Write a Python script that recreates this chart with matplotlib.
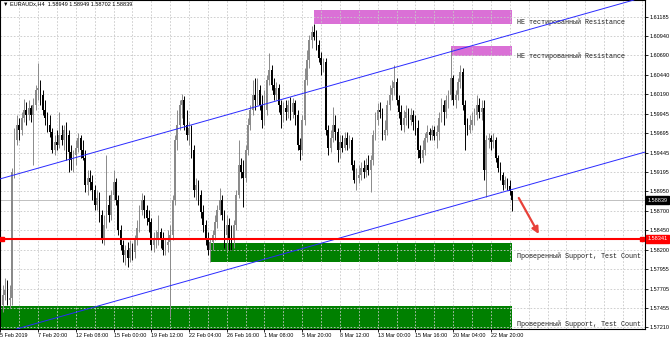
import numpy as np
import matplotlib
matplotlib.use("Agg")
import matplotlib.pyplot as plt

# EURAUD H4 candles (prices)
open_first = 1.5756
close = [1.5750, 1.5762, 1.5769, 1.5756, 1.5759, 1.5920, 1.5961, 1.5980, 1.5974, 1.5989,
         1.5999, 1.5993, 1.6002, 1.5993, 1.6006, 1.6025, 1.6027, 1.6018, 1.5999, 1.5989,
         1.5980, 1.5971, 1.5948, 1.5958, 1.5954, 1.5967, 1.5961, 1.5974, 1.5967, 1.5945,
         1.5935, 1.5942, 1.5951, 1.5963, 1.5948, 1.5938, 1.5903, 1.5912, 1.5907, 1.5897,
         1.5878, 1.5887, 1.5865, 1.5835, 1.5852, 1.5878, 1.5865, 1.5890, 1.5907, 1.5884,
         1.5846, 1.5826, 1.5814, 1.5820, 1.5810, 1.5823, 1.5817, 1.5833, 1.5848, 1.5871,
         1.5884, 1.5871, 1.5861, 1.5856, 1.5826, 1.5833, 1.5835, 1.5843, 1.5833, 1.5820,
         1.5826, 1.5830, 1.5839, 1.5884, 1.5961, 1.5980, 1.6006, 1.6012, 1.5980, 1.5967,
         1.5976, 1.5948, 1.5897, 1.5903, 1.5890, 1.5869, 1.5852, 1.5833, 1.5820, 1.5830,
         1.5839, 1.5856, 1.5871, 1.5884, 1.5865, 1.5839, 1.5852, 1.5835, 1.5833, 1.5852,
         1.5890, 1.5929, 1.5920, 1.5912, 1.5948, 1.5980, 1.5999, 1.6018, 1.6012, 1.6025,
         1.6006, 1.5986, 1.5999, 1.6038, 1.6050, 1.6031, 1.6018, 1.6027, 1.6006, 1.5993,
         1.6002, 1.5997, 1.6006, 1.5997, 1.6008, 1.5993, 1.5954, 1.5948, 1.5986, 1.6038,
         1.6063, 1.6089, 1.6099, 1.6093, 1.6082, 1.6066, 1.6057, 1.6061, 1.5974, 1.5951,
         1.5963, 1.5980, 1.5971, 1.5948, 1.5958, 1.5951, 1.5963, 1.5954, 1.5961, 1.5929,
         1.5910, 1.5912, 1.5916, 1.5925, 1.5920, 1.5929, 1.5922, 1.5935, 1.5967, 1.5986,
         1.5999, 1.5997, 1.5967, 1.5974, 1.6006, 1.6018, 1.6027, 1.6035, 1.6012, 1.5997,
         1.5980, 1.5989, 1.5997, 1.5986, 1.5993, 1.5984, 1.5976, 1.5948, 1.5938, 1.5948,
         1.5963, 1.5971, 1.5967, 1.5974, 1.5966, 1.5971, 1.5989, 1.6006, 1.5997, 1.6012,
         1.6018, 1.6040, 1.6012, 1.6018, 1.6035, 1.6048, 1.6006, 1.5980, 1.5974, 1.5980,
         1.5986, 1.5993, 1.6006, 1.5997, 1.6002, 1.5922, 1.5961, 1.5963, 1.5958, 1.5961,
         1.5938, 1.5925, 1.5916, 1.5903, 1.5910, 1.5902, 1.58949, 1.58839]
high = [1.5769, 1.5775, 1.5784, 1.5782, 1.5775, 1.5925, 1.5976, 1.5993, 1.5989, 1.5997,
        1.6013, 1.6009, 1.6012, 1.6006, 1.6015, 1.6031, 1.6059, 1.6038, 1.6025, 1.6012,
        1.5997, 1.5993, 1.5976, 1.5967, 1.5974, 1.5997, 1.5980, 1.5980, 1.5984, 1.5974,
        1.5954, 1.5948, 1.5961, 1.5970, 1.5967, 1.5961, 1.5948, 1.5922, 1.5922, 1.5916,
        1.5903, 1.5897, 1.5894, 1.5871, 1.5865, 1.5942, 1.5890, 1.5897, 1.5922, 1.5912,
        1.5890, 1.5852, 1.5833, 1.5826, 1.5830, 1.5833, 1.5829, 1.5839, 1.5858, 1.5878,
        1.5893, 1.5890, 1.5878, 1.5871, 1.5861, 1.5843, 1.5846, 1.5865, 1.5848, 1.5843,
        1.5835, 1.5846, 1.5852, 1.5890, 1.5967, 1.5999, 1.6012, 1.6020, 1.6017, 1.5999,
        1.5984, 1.5980, 1.5954, 1.5912, 1.5910, 1.5897, 1.5878, 1.5858, 1.5843, 1.5835,
        1.5846, 1.5865, 1.5878, 1.5899, 1.5890, 1.5871, 1.5865, 1.5861, 1.5852, 1.5858,
        1.5897, 1.5961, 1.5938, 1.5935, 1.5954, 1.5989, 1.6006, 1.6038, 1.6040, 1.6040,
        1.6031, 1.6018, 1.6025, 1.6044, 1.6072, 1.6057, 1.6040, 1.6035, 1.6033, 1.6012,
        1.6009, 1.6012, 1.6012, 1.6016, 1.6015, 1.6012, 1.5999, 1.5963, 1.5993, 1.6053,
        1.6076, 1.6095, 1.6107, 1.6109, 1.6102, 1.6089, 1.6073, 1.6066, 1.6066, 1.5980,
        1.5974, 1.6003, 1.5993, 1.5976, 1.5967, 1.5967, 1.5971, 1.5971, 1.5967, 1.5965,
        1.5935, 1.5925, 1.5929, 1.5933, 1.5935, 1.5938, 1.5942, 1.5942, 1.5974, 1.5997,
        1.6008, 1.6009, 1.6002, 1.5986, 1.6012, 1.6031, 1.6038, 1.6057, 1.6040, 1.6018,
        1.6006, 1.5999, 1.6006, 1.6002, 1.6002, 1.5999, 1.5993, 1.5986, 1.5954, 1.5961,
        1.5970, 1.5980, 1.5976, 1.5980, 1.5979, 1.5980, 1.5997, 1.6015, 1.6012, 1.6018,
        1.6025, 1.6079, 1.6044, 1.6025, 1.6040, 1.6057, 1.6053, 1.6012, 1.5989, 1.5993,
        1.5997, 1.6002, 1.6018, 1.6015, 1.6012, 1.6012, 1.5967, 1.5970, 1.5967, 1.5970,
        1.5965, 1.5942, 1.5933, 1.5920, 1.5915, 1.5912, 1.5910, 1.58949]
low = [1.5733, 1.5741, 1.5756, 1.5750, 1.5746, 1.5750, 1.5912, 1.5954, 1.5961, 1.5967,
       1.5984, 1.5980, 1.5986, 1.5984, 1.5929, 1.5999, 1.6012, 1.6006, 1.5993, 1.5980,
       1.5971, 1.5965, 1.5944, 1.5942, 1.5948, 1.5951, 1.5954, 1.5948, 1.5935, 1.5920,
       1.5922, 1.5920, 1.5929, 1.5945, 1.5938, 1.5935, 1.5894, 1.5890, 1.5897, 1.5884,
       1.5871, 1.5871, 1.5856, 1.5829, 1.5826, 1.5848, 1.5856, 1.5858, 1.5884, 1.5878,
       1.5839, 1.5820, 1.5805, 1.5801, 1.5798, 1.5805, 1.5807, 1.5810, 1.5826, 1.5843,
       1.5865, 1.5861, 1.5852, 1.5843, 1.5820, 1.5817, 1.5823, 1.5826, 1.5823, 1.5814,
       1.5814, 1.5817, 1.5734, 1.5833, 1.5878, 1.5948, 1.5974, 1.5989, 1.5974, 1.5961,
       1.5954, 1.5938, 1.5888, 1.5884, 1.5878, 1.5861, 1.5843, 1.5826, 1.5814, 1.5805,
       1.5820, 1.5833, 1.5848, 1.5865, 1.5858, 1.5823, 1.5820, 1.5820, 1.5820, 1.5823,
       1.5846, 1.5887, 1.5912, 1.5875, 1.5907, 1.5942, 1.5974, 1.5993, 1.5999, 1.6006,
       1.5999, 1.5976, 1.5980, 1.5993, 1.6031, 1.6025, 1.6012, 1.6012, 1.5997, 1.5976,
       1.5984, 1.5986, 1.5989, 1.5986, 1.5989, 1.5980, 1.5948, 1.5935, 1.5942, 1.5980,
       1.6031, 1.6053, 1.6079, 1.6089, 1.6076, 1.6061, 1.6044, 1.6048, 1.5967, 1.5942,
       1.5945, 1.5958, 1.5961, 1.5933, 1.5938, 1.5945, 1.5948, 1.5948, 1.5951, 1.5922,
       1.5906, 1.5897, 1.5906, 1.5910, 1.5912, 1.5913, 1.5916, 1.5894, 1.5929, 1.5961,
       1.5980, 1.5989, 1.5961, 1.5961, 1.5967, 1.5999, 1.6012, 1.6018, 1.6006, 1.5989,
       1.5974, 1.5971, 1.5980, 1.5976, 1.5980, 1.5974, 1.5967, 1.5938, 1.5931, 1.5933,
       1.5942, 1.5958, 1.5961, 1.5961, 1.5961, 1.5951, 1.5961, 1.5984, 1.5980, 1.5989,
       1.6002, 1.6012, 1.6006, 1.6002, 1.6012, 1.6027, 1.5999, 1.5948, 1.5967, 1.5970,
       1.5974, 1.5980, 1.5986, 1.5989, 1.5986, 1.5910, 1.5888, 1.5951, 1.5948, 1.5951,
       1.5933, 1.5920, 1.5910, 1.5897, 1.5899, 1.5897, 1.5890, 1.58702]

ytick_vals = [1.61185, 1.60940, 1.60690, 1.60440, 1.60190, 1.59945, 1.59695, 1.59445,
              1.59195, 1.58950, 1.58700, 1.58450, 1.58200, 1.57955, 1.57705, 1.57455, 1.57210]
time_labels = ["5 Feb 2019", "7 Feb 20:00", "12 Feb 08:00", "15 Feb 00:00", "19 Feb 12:00",
               "22 Feb 04:00", "26 Feb 16:00", "1 Mar 08:00", "5 Mar 20:00", "8 Mar 12:00",
               "13 Mar 00:00", "15 Mar 16:00", "20 Mar 04:00", "22 Mar 20:00"]

# zones: (start bar, low, high, text level, text)
resist_zones = [(133, 1.61092, 1.61271, 1.61117, "НЕ тестированный Resistance"),
                (191, 1.60682, 1.60810, 1.60682, "НЕ тестированный Resistance")]
support_zones = [(89, 1.58050, 1.58293, 1.58123, "Проверенный Support, Test Count"),
                 (-3, 1.57190, 1.57483, 1.57246, "Проверенный Support, Test Count")]
red_level = 1.58341
upper_channel = [(0, 1.5911), (264, 1.6136)]
lower_channel = [(0, 1.5713), (273, 1.5945)]
arrow_from = (219.8, 1.58865)
arrow_to = (228.3, 1.58404)

close = np.array(close)
high = np.array(high)
low = np.array(low)
opn = np.concatenate(([open_first], close[:-1]))
n = len(close)
idx = np.arange(n)

fig = plt.figure(figsize=(6.7, 3.4), dpi=100)
ax = fig.add_axes([0, 11 / 340, 644.5 / 670, 329 / 340])
ax.set_xlim(-0.13, 273.1)
ax.set_ylim(1.57188, 1.61399)

# zones
for x0, lo, hi, ty, txt in resist_zones:
    ax.fill_between([x0, n - 1], lo, hi, color="#da70d6", lw=0, zorder=0.2)
    ax.text(n + 0.9, ty, txt, fontsize=4.9, family="Liberation Mono", va="center",
            ha="left", color="#222222", clip_on=True)
for x0, lo, hi, ty, txt in support_zones:
    ax.fill_between([x0, n - 1], lo, hi, color="#008000", lw=0, zorder=0.2)
    ax.text(n + 0.9, ty, txt, fontsize=4.9, family="Liberation Mono", va="center",
            ha="left", color="#222222", clip_on=True)

# grid
ax.set_axisbelow(True)
ax.set_yticks(ytick_vals)
ax.set_yticklabels([f"{v:.5f}" for v in ytick_vals])
ax.set_xticks(np.arange(0, 16 * len(time_labels), 16))
ax.set_xticklabels(time_labels, ha="left")
ax.set_xticks(np.arange(8, 274, 8), minor=True)
ax.grid(True, which="both", color="#c8c8c8", lw=0.6, linestyle=(0, (2, 2)))

# candles
up = close >= opn
body_lo = np.minimum(opn, close)
body_h = np.maximum(np.abs(close - opn), 0.00003)
ax.vlines(idx[up], low[up], high[up], color="#8a8a8a", lw=0.7, zorder=2)
ax.vlines(idx[~up], low[~up], high[~up], color="black", lw=0.7, zorder=2)
ax.bar(idx[up], body_h[up], bottom=body_lo[up], width=0.72, color="#8a8a8a", lw=0, zorder=3)
ax.bar(idx[~up], body_h[~up], bottom=body_lo[~up], width=0.72, color="black", lw=0, zorder=3)

# bid line, channel, red level
ax.axhline(close[-1], color="#c0c0c0", lw=0.7, zorder=1.5)
ax.axline(upper_channel[0], upper_channel[1], color="#2a2aff", lw=0.7, zorder=4)
ax.axline(lower_channel[0], lower_channel[1], color="#2a2aff", lw=0.7, zorder=4)
ax.axhline(red_level, color="red", lw=1.5, zorder=5)
ax.plot([0.6, 272.2], [red_level, red_level], "s", color="red", ms=2.6, zorder=6, clip_on=False)
ax.annotate("", xy=arrow_to, xytext=arrow_from,
            arrowprops=dict(arrowstyle="-|>", color="#e8413a", lw=1.6, mutation_scale=10,
                            shrinkA=0, shrinkB=0), zorder=6)

# axes look
ax.yaxis.tick_right()
ax.tick_params(axis="y", length=2, width=0.6, pad=1.5, labelsize=4.0, colors="black")
ax.tick_params(axis="x", which="major", length=2, width=0.6, pad=1.2, labelsize=3.9)
ax.tick_params(axis="x", which="minor", length=0)
for lab in ax.get_xticklabels() + ax.get_yticklabels():
    lab.set_family("Liberation Sans")
for sp in ax.spines.values():
    sp.set_color("black")
    sp.set_linewidth(0.8)

# price tags on the scale
ax.annotate(f"{close[-1]:.5f}", xy=(1, close[-1]), xycoords=("axes fraction", "data"),
            xytext=(2.2, 0), textcoords="offset points", ha="left", va="center",
            fontsize=4.0, family="Liberation Sans", color="white", annotation_clip=False,
            bbox=dict(boxstyle="square,pad=0.3", fc="black", ec="black"))
ax.annotate(f"{red_level:.5f}", xy=(1, red_level), xycoords=("axes fraction", "data"),
            xytext=(2.2, 0), textcoords="offset points", ha="left", va="center",
            fontsize=4.0, family="Liberation Sans", color="white", annotation_clip=False,
            bbox=dict(boxstyle="square,pad=0.3", fc="red", ec="red"))

# header
header = f"\u25bc {'EURAUDx,H4'}  {opn[-1]:.5f} {high[-1]:.5f} {low[-1]:.5f} {close[-1]:.5f}"
ax.text(0.004, 0.989, header, transform=ax.transAxes, fontsize=4.0, va="center", ha="left",
        family=["Liberation Sans", "DejaVu Sans"], color="black")

fig.savefig("out.png", dpi=100, facecolor="white")
